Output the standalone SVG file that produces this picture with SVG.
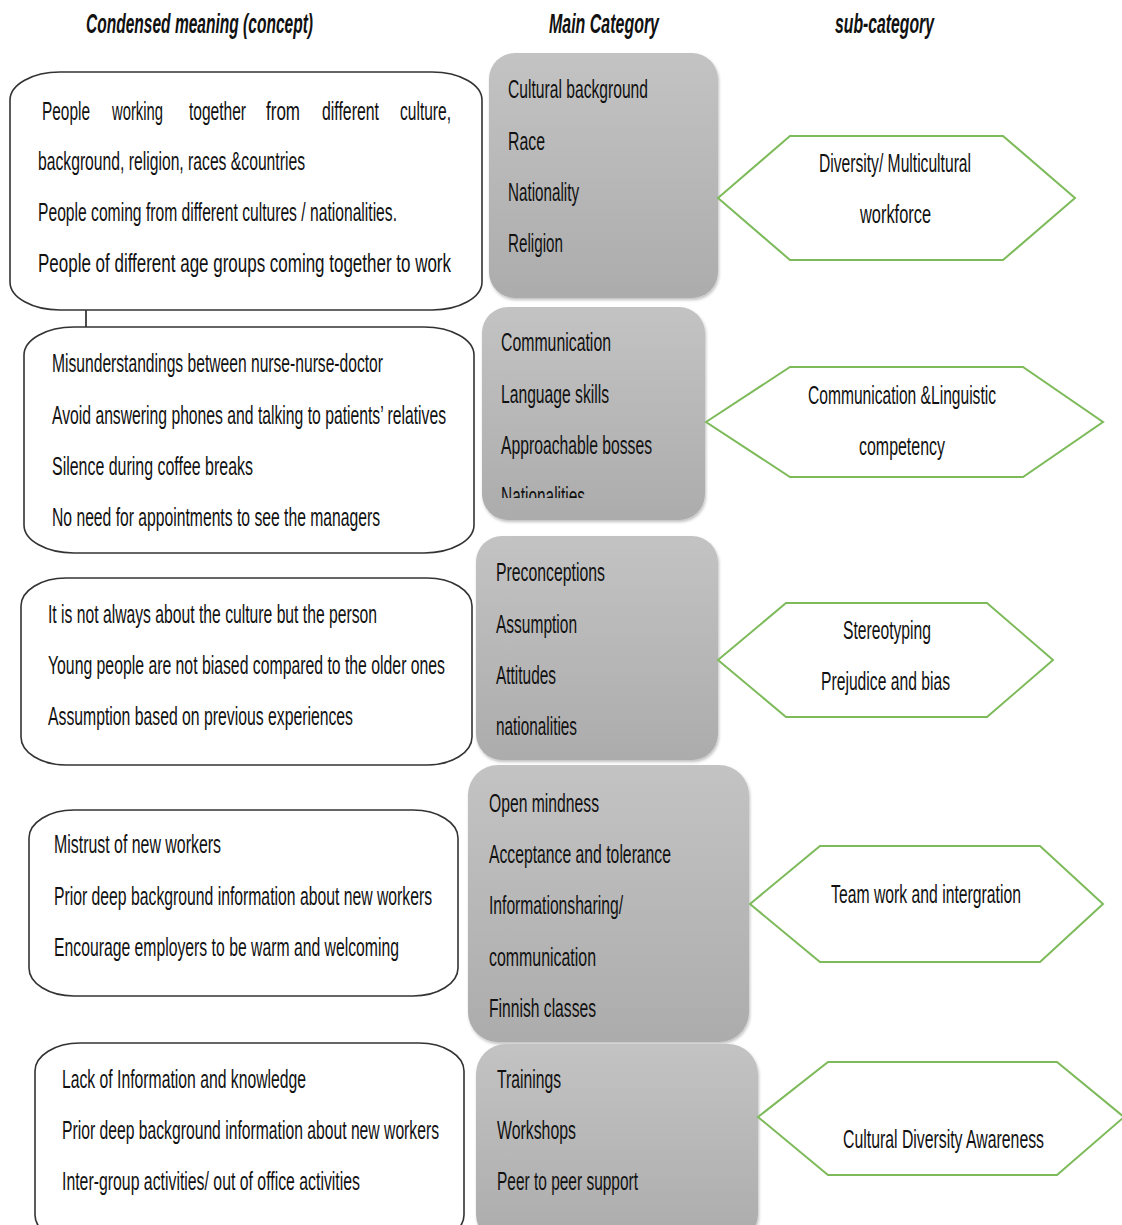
<svg xmlns="http://www.w3.org/2000/svg" width="1122" height="1225" viewBox="0 0 1122 1225">
<defs>
<linearGradient id="gg" x1="0" y1="0" x2="0" y2="1">
<stop offset="0" stop-color="#c3c3c3"/>
<stop offset="1" stop-color="#acacac"/>
</linearGradient>
<filter id="sh" x="-10%" y="-10%" width="120%" height="120%">
<feDropShadow dx="1" dy="2" stdDeviation="1.5" flood-color="#000" flood-opacity="0.25"/>
</filter>
<clipPath id="clip2"><rect x="482" y="307" width="223" height="191"/></clipPath>
</defs>
<style>
text{font-family:"Liberation Sans",Arial,sans-serif;font-size:26px;fill:#111}
.h{font-weight:bold;font-style:italic;font-size:27px}
.box{fill:#fff;stroke:#333;stroke-width:1.6}
.gray{fill:url(#gg);filter:url(#sh)}
.hex{fill:#fff;stroke:#7dba5a;stroke-width:2}
.conn{stroke:#111;stroke-width:1.5;fill:none}
</style>
<rect width="1122" height="1225" fill="#fff"/>
<g id="headers">
<text class="h" x="86" y="33" textLength="227" lengthAdjust="spacingAndGlyphs">Condensed meaning (concept)</text>
<text class="h" x="549" y="33" textLength="110" lengthAdjust="spacingAndGlyphs">Main Category</text>
<text class="h" x="835" y="33" textLength="99" lengthAdjust="spacingAndGlyphs">sub-category</text>
</g>
<g id="connectors">
<line class="conn" x1="86" y1="298" x2="86" y2="329"/>
</g>
<g id="concept1">
<rect class="box" x="10" y="72" width="472" height="238" rx="50" ry="28"/>
<text x="42" y="120" textLength="48" lengthAdjust="spacingAndGlyphs">People</text>
<text x="112" y="120" textLength="51" lengthAdjust="spacingAndGlyphs">working</text>
<text x="189" y="120" textLength="57" lengthAdjust="spacingAndGlyphs">together</text>
<text x="266" y="120" textLength="34" lengthAdjust="spacingAndGlyphs">from</text>
<text x="322" y="120" textLength="57" lengthAdjust="spacingAndGlyphs">different</text>
<text x="400" y="120" textLength="51" lengthAdjust="spacingAndGlyphs">culture,</text>
<text x="38" y="170" textLength="267" lengthAdjust="spacingAndGlyphs">background, religion, races &amp;countries</text>
<text x="38" y="221" textLength="359" lengthAdjust="spacingAndGlyphs">People coming from different cultures / nationalities.</text>
<text x="38" y="272" textLength="413" lengthAdjust="spacingAndGlyphs">People of different age groups coming together to work</text>
</g>
<g id="concept2">
<rect class="box" x="24" y="327" width="450" height="226" rx="50" ry="28"/>
<text x="52" y="372" textLength="331" lengthAdjust="spacingAndGlyphs">Misunderstandings between nurse-nurse-doctor</text>
<text x="52" y="424" textLength="394" lengthAdjust="spacingAndGlyphs">Avoid answering phones and talking to patients’ relatives</text>
<text x="52" y="475" textLength="201" lengthAdjust="spacingAndGlyphs">Silence during coffee breaks</text>
<text x="52" y="526" textLength="328" lengthAdjust="spacingAndGlyphs">No need for appointments to see the managers</text>
</g>
<g id="concept3">
<rect class="box" x="21" y="578" width="451" height="187" rx="45" ry="28"/>
<text x="48" y="623" textLength="329" lengthAdjust="spacingAndGlyphs">It is not always about the culture but the person</text>
<text x="48" y="674" textLength="397" lengthAdjust="spacingAndGlyphs">Young people are not biased compared to the older ones</text>
<text x="48" y="725" textLength="305" lengthAdjust="spacingAndGlyphs">Assumption based on previous experiences</text>
</g>
<g id="concept4">
<rect class="box" x="29" y="810" width="429" height="186" rx="45" ry="28"/>
<text x="54" y="853" textLength="167" lengthAdjust="spacingAndGlyphs">Mistrust of new workers</text>
<text x="54" y="905" textLength="378" lengthAdjust="spacingAndGlyphs">Prior deep background information about new workers</text>
<text x="54" y="956" textLength="345" lengthAdjust="spacingAndGlyphs">Encourage employers to be warm and welcoming</text>
</g>
<g id="concept5">
<rect class="box" x="35" y="1043" width="429" height="200" rx="45" ry="28"/>
<text x="62" y="1088" textLength="244" lengthAdjust="spacingAndGlyphs">Lack of Information and knowledge</text>
<text x="62" y="1139" textLength="377" lengthAdjust="spacingAndGlyphs">Prior deep background information about new workers</text>
<text x="62" y="1190" textLength="298" lengthAdjust="spacingAndGlyphs">Inter-group activities/ out of office activities</text>
</g>
<g id="main1">
<rect class="gray" x="489" y="53" width="229" height="245" rx="26"/>
<text x="508" y="98" textLength="140" lengthAdjust="spacingAndGlyphs">Cultural background</text>
<text x="508" y="150" textLength="37" lengthAdjust="spacingAndGlyphs">Race</text>
<text x="508" y="201" textLength="71" lengthAdjust="spacingAndGlyphs">Nationality</text>
<text x="508" y="252" textLength="55" lengthAdjust="spacingAndGlyphs">Religion</text>
</g>
<g id="main2">
<rect class="gray" x="482" y="307" width="223" height="213" rx="26"/>
<text x="501" y="351" textLength="110" lengthAdjust="spacingAndGlyphs">Communication</text>
<text x="501" y="403" textLength="108" lengthAdjust="spacingAndGlyphs">Language skills</text>
<text x="501" y="454" textLength="151" lengthAdjust="spacingAndGlyphs">Approachable bosses</text>
<text x="501" y="505" textLength="84" lengthAdjust="spacingAndGlyphs" clip-path="url(#clip2)">Nationalities</text>
</g>
<g id="main3">
<rect class="gray" x="476" y="536" width="242" height="224" rx="26"/>
<text x="496" y="581" textLength="109" lengthAdjust="spacingAndGlyphs">Preconceptions</text>
<text x="496" y="633" textLength="81" lengthAdjust="spacingAndGlyphs">Assumption</text>
<text x="496" y="684" textLength="60" lengthAdjust="spacingAndGlyphs">Attitudes</text>
<text x="496" y="735" textLength="81" lengthAdjust="spacingAndGlyphs">nationalities</text>
</g>
<g id="main4">
<rect class="gray" x="468" y="765" width="281" height="277" rx="30"/>
<text x="489" y="812" textLength="110" lengthAdjust="spacingAndGlyphs">Open mindness</text>
<text x="489" y="863" textLength="182" lengthAdjust="spacingAndGlyphs">Acceptance and tolerance</text>
<text x="489" y="914" textLength="134" lengthAdjust="spacingAndGlyphs">Informationsharing/</text>
<text x="489" y="966" textLength="107" lengthAdjust="spacingAndGlyphs">communication</text>
<text x="489" y="1017" textLength="107" lengthAdjust="spacingAndGlyphs">Finnish classes</text>
</g>
<g id="main5">
<rect class="gray" x="476" y="1044" width="282" height="200" rx="30"/>
<text x="497" y="1088" textLength="64" lengthAdjust="spacingAndGlyphs">Trainings</text>
<text x="497" y="1139" textLength="79" lengthAdjust="spacingAndGlyphs">Workshops</text>
<text x="497" y="1190" textLength="141" lengthAdjust="spacingAndGlyphs">Peer to peer support</text>
</g>
<g id="sub1">
<polygon class="hex" points="718,198 790,136 1003,136 1075,198 1003,260 790,260"/>
<text x="819" y="172" textLength="152" lengthAdjust="spacingAndGlyphs">Diversity/ Multicultural</text>
<text x="860" y="223" textLength="71" lengthAdjust="spacingAndGlyphs">workforce</text>
</g>
<g id="sub2">
<polygon class="hex" points="706,422 790,367 1023,367 1103,422 1023,477 790,477"/>
<text x="808" y="404" textLength="188" lengthAdjust="spacingAndGlyphs">Communication &amp;Linguistic</text>
<text x="859" y="455" textLength="86" lengthAdjust="spacingAndGlyphs">competency</text>
</g>
<g id="sub3">
<polygon class="hex" points="718,660 786,603 987,603 1053,660 987,717 786,717"/>
<text x="843" y="639" textLength="88" lengthAdjust="spacingAndGlyphs">Stereotyping</text>
<text x="821" y="690" textLength="129" lengthAdjust="spacingAndGlyphs">Prejudice and bias</text>
</g>
<g id="sub4">
<polygon class="hex" points="750,904 820,846 1040,846 1103,904 1040,962 820,962"/>
<text x="831" y="903" textLength="190" lengthAdjust="spacingAndGlyphs">Team work and intergration</text>
</g>
<g id="sub5">
<polygon class="hex" points="758,1117 828,1062 1057,1062 1124,1117 1057,1175 828,1175"/>
<text x="843" y="1148" textLength="201" lengthAdjust="spacingAndGlyphs">Cultural Diversity Awareness</text>
</g>
</svg>
